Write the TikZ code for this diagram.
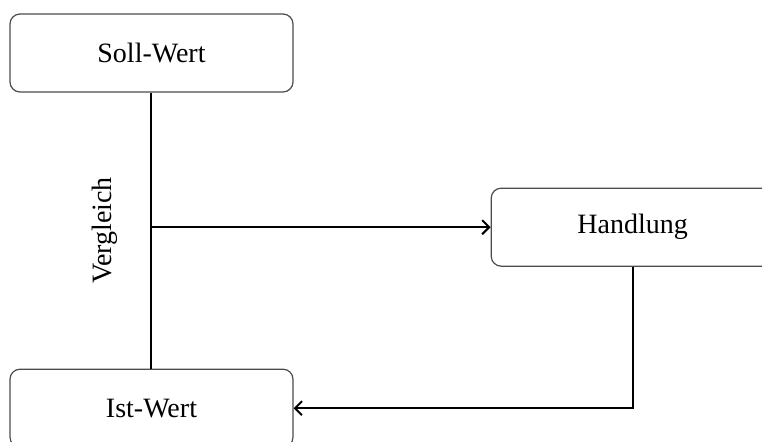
\documentclass[tikz,border=0pt]{standalone}
\usepackage{fontspec}
\setmainfont{Liberation Serif}
\usetikzlibrary{arrows.meta,positioning}

\begin{document}
\begin{tikzpicture}[font=\fontsize{14}{16}\selectfont,
  box/.style={rectangle,rounded corners=5pt,draw=black!70,line width=0.6pt,minimum width=141.5pt,minimum height=39pt},
  conn/.style={draw,line width=1pt,>={Straight Barb[length=3.5pt,width=7pt]}}]
\useasboundingbox (-75.75pt,26.5pt) rectangle (305.25pt,-194.5pt);

\node(soll)[box]{Soll-Wert};

\node(ist)[box,below=138pt of soll]{Ist-Wert};

\node(hand)[box,below right=47.5pt and 98.5pt of soll]{Handlung};

\path [conn] (ist.north) -- (soll.south) node [midway, above=13pt, sloped] (vgl) {Vergleich};
\path [conn,->] (soll.south |- hand.west) -- (hand.west);
\path [conn,->] (hand.south) -- (hand.south |- ist.east) -- (ist.east);

\end{tikzpicture}
\end{document}
